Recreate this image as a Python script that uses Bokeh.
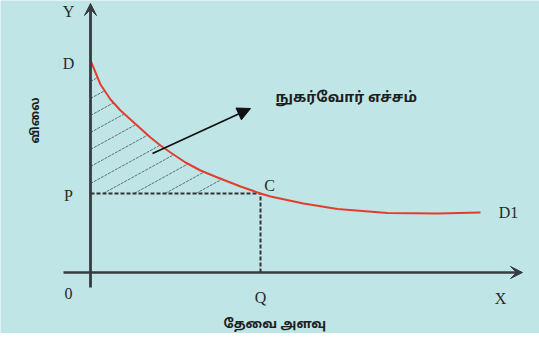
import numpy as np
from bokeh.plotting import figure
from bokeh.models import Arrow, NormalHead, VeeHead, Label
from bokeh.embed import file_html
from bokeh.resources import INLINE

# Demand curve (quantity, price)
curve_q = [0, 0.5, 1, 2, 3, 4, 6, 7, 8, 9.5, 11, 12.7, 15, 17, 18, 21.3, 24.7, 29.7, 34.7, 39]
curve_p = [21.2, 20.0, 18.8, 17.3, 16.2, 15.3, 13.5, 12.7, 12.0, 11.0, 10.2, 9.5, 8.6, 7.9, 7.6, 6.9, 6.35, 5.95, 5.9, 6.0]

# Equilibrium point C
Q_val = 17.0
P_val = 7.9

# Axis extents
x_axis_span = [-2.7, 43.2]
y_axis_span = [-1.5, 26.9]

# Labels
point_labels = ["Y", "D", "P", "0", "Q", "X", "C", "D1"]
point_label_x = [-2.2, -2.2, -2.2, -2.2, Q_val, 41.0, 17.9, 41.8]
point_label_y = [26.1, 20.9, 7.7, -2.1, -2.5, -2.6, 8.7, 6.0]

surplus_label = "நுகர்வோர்  எச்சம்"
y_title = "விலை"
x_title = "தேவை  அளவு"

# Arrow pointing to surplus label
arrow_start = (6.2, 11.9)
arrow_end = (16.0, 16.4)

BG = "#bfe5e7"
AX = "#363c41"
TXT = "#2a2a2a"

p = figure(width=539, height=333, x_range=(-9.0, 44.9), y_range=(-6.1, 27.2),
           output_backend="svg", toolbar_location=None, min_border=0)
p.axis.visible = False
p.grid.visible = False
p.outline_line_color = None
p.background_fill_color = BG
p.border_fill_color = BG

# Hatch lines inside the consumer surplus area
slope = 0.55
cq = np.array(curve_q)
cp = np.array(curve_p)
fine_q = np.linspace(0, Q_val, 400)
fine_p = np.interp(fine_q, cq, cp)
xs, ys = [], []
for c in np.arange(2.1, 21.0, 1.7):
    if c >= P_val:
        x0, y0 = 0.0, c
    else:
        x0 = (P_val - c) / slope
        y0 = P_val
    line_y = c + slope * fine_q
    idx = np.where(line_y >= fine_p)[0]
    if len(idx) == 0:
        continue
    x1 = fine_q[idx[0]]
    if x1 <= x0:
        continue
    xs.append([x0, x1])
    ys.append([y0, c + slope * x1])
p.multi_line(xs, ys, line_color="#4a5257", line_width=0.8, line_dash="3 1")

# Axes
p.add_layout(Arrow(end=VeeHead(size=12, fill_color=AX, line_color=AX),
                   x_start=0, y_start=y_axis_span[0], x_end=0, y_end=y_axis_span[1],
                   line_color=AX, line_width=2.8))
p.add_layout(Arrow(end=VeeHead(size=12, fill_color=AX, line_color=AX),
                   x_start=x_axis_span[0], y_start=0, x_end=x_axis_span[1], y_end=0,
                   line_color=AX, line_width=2.5))

# Dashed guides
p.line([0, Q_val], [P_val, P_val], line_color="#333333", line_width=2, line_dash="4 2")
p.line([Q_val, Q_val], [0, P_val], line_color="#333333", line_width=2, line_dash="4 2")

# Demand curve
p.line(curve_q, curve_p, line_color="#e53d2c", line_width=2)

# Pointer arrow
p.add_layout(Arrow(end=NormalHead(size=13, fill_color="#111111", line_color="#111111"),
                   x_start=arrow_start[0], y_start=arrow_start[1],
                   x_end=arrow_end[0], y_end=arrow_end[1],
                   line_color="#111111", line_width=1.8))

for t, x, y in zip(point_labels, point_label_x, point_label_y):
    p.add_layout(Label(x=x, y=y, text=t, text_font="Liberation Serif",
                       text_font_size="16px", text_color=TXT,
                       text_align="center", text_baseline="middle"))

p.add_layout(Label(x=18.5, y=17.5, text=surplus_label, text_font="Noto Sans Tamil",
                   text_font_size="14.5px", text_font_style="bold", text_color="#1e1e1e",
                   text_align="left", text_baseline="middle"))
p.add_layout(Label(x=-5.5, y=15.2, text=y_title, text_font="Noto Sans Tamil",
                   text_font_size="12px", text_font_style="bold", text_color="#1e1e1e",
                   angle=np.pi / 2, text_align="center", text_baseline="middle"))
p.add_layout(Label(x=18.6, y=-5.2, text=x_title, text_font="Noto Sans Tamil",
                   text_font_size="13px", text_font_style="bold", text_color="#1e1e1e",
                   text_align="center", text_baseline="middle"))

open("out.html", "w").write(file_html(p, INLINE))
